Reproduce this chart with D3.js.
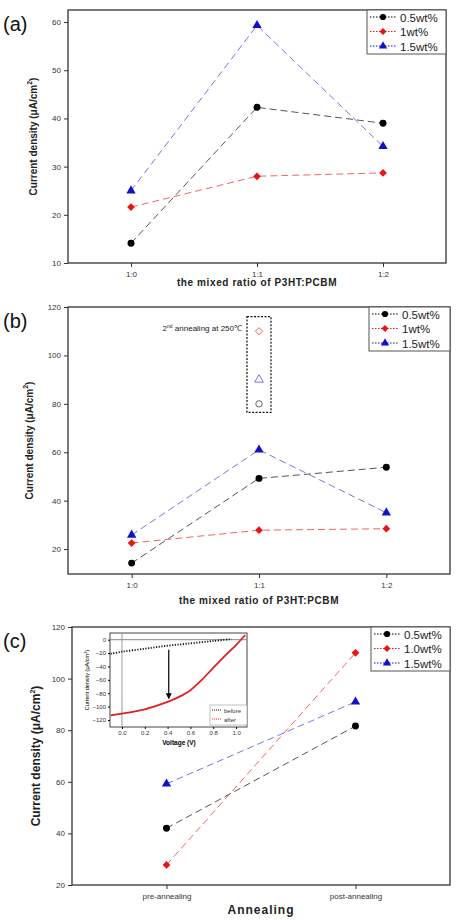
<!DOCTYPE html>
<html><head><meta charset="utf-8">
<script src="https://cdn.jsdelivr.net/npm/d3@7"></script>
<style>body{margin:0;background:#fff}svg{display:block}</style>
</head><body><svg id="s" width="461" height="920"></svg>
<script>
const ratioCats = ["1:0","1:1","1:2"];
const annealCats = ["pre-annealing","post-annealing"];
const seriesNamesAB = ["0.5wt%","1wt%","1.5wt%"];
const seriesNamesC = ["0.5wt%","1.0wt%","1.5wt%"];
const colors = ["#000000","#ee1111","#1111cc"];
const lineColors = ["#555555","#ee6666","#7777dd"];
const shapes = ["circle","diamond","triangle"];
const a05 = [14.1, 42.3, 39.0];
const a1 = [21.6, 28.0, 28.7];
const a15 = [25.0, 59.3, 34.2];
const b05 = [14.2, 49.2, 53.8];
const b1 = [22.5, 27.8, 28.4];
const b15 = [25.8, 61.0, 35.0];
const b2nd = [80, 110, 90]; // circle, diamond, triangle at 1:1
const c05 = [42.0, 81.6];
const c1 = [27.8, 110.0];
const c15 = [59.2, 91.0];
const ticksA = [10,20,30,40,50,60];
const ticksB = [20,40,60,80,100,120];
const ticksC = [20,40,60,80,100,120];
const insetV = [-0.1,0,0.2,0.4,0.5,0.6,0.7,0.8,0.9,1.0,1.08];
const insetAfter = [-113,-110.5,-104,-93,-85.5,-75.5,-60,-42,-24.5,-8,7];
const insetBeforeV = [-0.1,0,0.2,0.4,0.6,0.8,0.96];
const insetBefore = [-21,-18,-13.5,-9,-5.5,-2,1];
const insetXT = [0,0.2,0.4,0.6,0.8,1.0];
const insetYT = [0,-20,-40,-60,-80,-100,-120];

const svg = d3.select("#s");
const F = "Arial, 'Liberation Sans', sans-serif";
const sym = {circle:d3.symbolCircle, diamond:d3.symbolSquare, triangle:d3.symbolTriangle};
const rot = k => shapes[k]==="diamond" ? " rotate(45)" : "";

function panel(o){
  const g = svg.append("g");
  const x = d3.scaleLinear().domain([-0.5, o.cats.length-0.5]).range([o.x0,o.x1]);
  const y = d3.scaleLinear().domain(o.yd).range([o.y1,o.y0]);
  g.append("rect").attr("x",o.x0).attr("y",o.y0).attr("width",o.x1-o.x0).attr("height",o.y1-o.y0)
    .attr("fill","none").attr("stroke","#333").attr("stroke-width",1.3);
  const ya = g.append("g").attr("transform",`translate(${o.x0},0)`)
    .call(d3.axisLeft(y).tickValues(o.ticks).tickSize(4).tickPadding(3));
  const xa = g.append("g").attr("transform",`translate(0,${o.y1})`)
    .call(d3.axisBottom(x).tickValues(o.cats.map((d,i)=>i)).tickFormat(i=>o.cats[i]).tickSize(4).tickPadding(4));
  [ya,xa].forEach(a=>{a.select(".domain").remove();a.selectAll("text").attr("font-family",F).attr("font-size",8).attr("fill","#333");a.selectAll("line").attr("stroke","#333");});
  o.series.forEach((s,k)=>{
    g.append("path").datum(s).attr("fill","none").attr("stroke",lineColors[k]).attr("stroke-width",1)
      .attr("stroke-dasharray","7,4").attr("d",d3.line().x((d,i)=>x(i)).y(d=>y(d)));
    g.selectAll(null).data(s).join("path").attr("transform",(d,i)=>`translate(${x(i)},${y(d)})${rot(k)}`)
      .attr("d",d3.symbol(sym[shapes[k]], k==1?30:38)).attr("fill",colors[k]);
  });
  const L = g.append("g");
  L.append("rect").attr("x",o.lx).attr("y",o.y0).attr("width",o.x1-o.lx).attr("height",44)
    .attr("fill","#fff").attr("stroke","#555").attr("stroke-width",1);
  o.names.forEach((n,k)=>{
    const yy = o.y0+7+k*14.5;
    L.append("line").attr("x1",o.lx+3).attr("x2",o.lx+30).attr("y1",yy).attr("y2",yy)
      .attr("stroke",colors[k]).attr("stroke-dasharray","1.5,1.5");
    L.append("path").attr("transform",`translate(${o.lx+16},${yy})${rot(k)}`).attr("d",d3.symbol(sym[shapes[k]],k==1?24:30)).attr("fill",colors[k]);
    L.append("text").attr("x",o.lx+33).attr("y",yy+4.5).text(n).attr("font-family",F).attr("font-size",11.5).attr("fill","#222");
  });
  g.append("text").attr("x",3).attr("y",o.y0+21).text(o.label).attr("font-family",F).attr("font-size",20).attr("fill","#111");
  g.append("text").attr("transform",`translate(${o.ytx},${(o.y0+o.y1)/2}) rotate(-90)`).attr("text-anchor","middle")
    .attr("font-family",F).attr("font-size",o.ytf).attr("font-weight","bold").attr("fill","#222")
    .html("Current density (μA/cm<tspan dy='-5' font-size='7'>2</tspan><tspan dy='5'>)</tspan>");
  g.append("text").attr("x",(o.x0+o.x1)/2).attr("y",o.xty).attr("text-anchor","middle").text(o.xt)
    .attr("font-family",F).attr("font-size",o.xtf).attr("font-weight","bold").attr("fill","#222").attr("letter-spacing",o.xtf>11?1:0.6);
  return {g,x,y};
}

panel({x0:68,x1:446,y0:10,y1:263,yd:[10,62.5],ticks:ticksA,cats:ratioCats,series:[a05,a1,a15],names:seriesNamesAB,lx:367,label:"(a)",ytx:37,ytf:10,xt:"the mixed ratio of P3HT:PCBM",xty:286,xtf:10});
const pb = panel({x0:68,x1:450,y0:307,y1:574,yd:[9.7,120],ticks:ticksB,cats:ratioCats,series:[b05,b1,b15],names:seriesNamesAB,lx:369,label:"(b)",ytx:33,ytf:10,xt:"the mixed ratio of P3HT:PCBM",xty:604,xtf:10});
const openC = ["#555","#e05555","#6666dd"];
b2nd.forEach((v,k)=>{
  pb.g.append("path").attr("transform",`translate(${pb.x(1)},${pb.y(v)})${rot(k)}`).attr("d",d3.symbol(sym[shapes[k]],k==1?26:32))
    .attr("fill","none").attr("stroke",openC[k]).attr("stroke-width",0.9);
});
pb.g.append("rect").attr("x",pb.x(1)-12).attr("y",pb.y(116)).attr("width",24).attr("height",pb.y(76.5)-pb.y(116))
  .attr("fill","none").attr("stroke","#111").attr("stroke-width",1.2).attr("stroke-dasharray","2,1.5");
pb.g.append("text").attr("x",pb.x(1)-17).attr("y",pb.y(110)).attr("text-anchor","end").attr("font-family",F).attr("font-size",8).attr("fill","#222")
  .html("2<tspan dy='-3' font-size='5'>nd</tspan><tspan dy='3'> annealing at 250℃</tspan>");

const pc = panel({x0:72,x1:450,y0:627,y1:885,yd:[20,120],ticks:ticksC,cats:annealCats,series:[c05,c1,c15],names:seriesNamesC,lx:371,label:"(c)",ytx:40,ytf:12,xt:"Annealing",xty:914,xtf:12});

const ix = d3.scaleLinear().domain([-0.105,1.096]).range([110,247]);
const iy = d3.scaleLinear().domain([-130.5,10]).range([727,633]);
const I = svg.append("g");
I.append("rect").attr("x",110).attr("y",633).attr("width",137).attr("height",94).attr("fill","#fff").attr("stroke","#444");
I.append("line").attr("x1",110).attr("x2",247).attr("y1",iy(0)).attr("y2",iy(0)).attr("stroke","#888");
I.append("line").attr("x1",ix(0)).attr("x2",ix(0)).attr("y1",633).attr("y2",727).attr("stroke","#999");
const ixa = I.append("g").attr("transform","translate(0,727)").call(d3.axisBottom(ix).tickValues(insetXT).tickFormat(d3.format(".1f")).tickSize(2).tickPadding(2));
const iya = I.append("g").attr("transform","translate(110,0)").call(d3.axisLeft(iy).tickValues(insetYT).tickSize(2).tickPadding(2));
[ixa,iya].forEach(a=>{a.select(".domain").remove();a.selectAll("text").attr("font-family",F).attr("font-size",6).attr("fill","#333");});
I.append("path").datum(insetV.map((v,i)=>[v,insetAfter[i]])).attr("fill","none").attr("stroke","#e02020").attr("stroke-width",1.8)
  .attr("d",d3.line().curve(d3.curveCatmullRom).x(d=>ix(d[0])).y(d=>iy(d[1])));
I.append("path").datum(insetBeforeV.map((v,i)=>[v,insetBefore[i]])).attr("fill","none").attr("stroke","#111").attr("stroke-width",1.8)
  .attr("stroke-dasharray","1.2,1.5").attr("d",d3.line().curve(d3.curveCatmullRom).x(d=>ix(d[0])).y(d=>iy(d[1])));
svg.append("defs").append("marker").attr("id","ah").attr("viewBox","0 0 10 10").attr("refX",9).attr("refY",5)
  .attr("markerWidth",5).attr("markerHeight",5).attr("orient","auto").append("path").attr("d","M0,0L10,5L0,10z").attr("fill","#000");
I.append("line").attr("x1",ix(0.41)).attr("x2",ix(0.41)).attr("y1",iy(-15)).attr("y2",iy(-88)).attr("stroke","#000").attr("stroke-width",1.2).attr("marker-end","url(#ah)");
I.append("text").attr("x",ix(0.5)).attr("y",745).attr("text-anchor","middle").text("Voltage (V)").attr("font-family",F).attr("font-size",6.5).attr("font-weight","bold");
I.append("text").attr("transform",`translate(89,680) rotate(-90)`).attr("text-anchor","middle").attr("font-family",F).attr("font-size",5.5)
  .html("Current density (μA/cm<tspan dy='-2' font-size='4'>2</tspan><tspan dy='2'>)</tspan>");
const IL = I.append("g");
IL.append("rect").attr("x",210).attr("y",705).attr("width",37).attr("height",20).attr("fill","#fff").attr("stroke","#999").attr("stroke-width",0.6);
["before","after"].forEach((n,k)=>{
  const yy=710+k*9;
  IL.append("line").attr("x1",212).attr("x2",222).attr("y1",yy).attr("y2",yy).attr("stroke",k?"#e02020":"#111").attr("stroke-dasharray","1,1");
  IL.append("text").attr("x",224).attr("y",yy+2.5).text(n).attr("font-family",F).attr("font-size",6).attr("fill","#333");
});
</script></body></html>
